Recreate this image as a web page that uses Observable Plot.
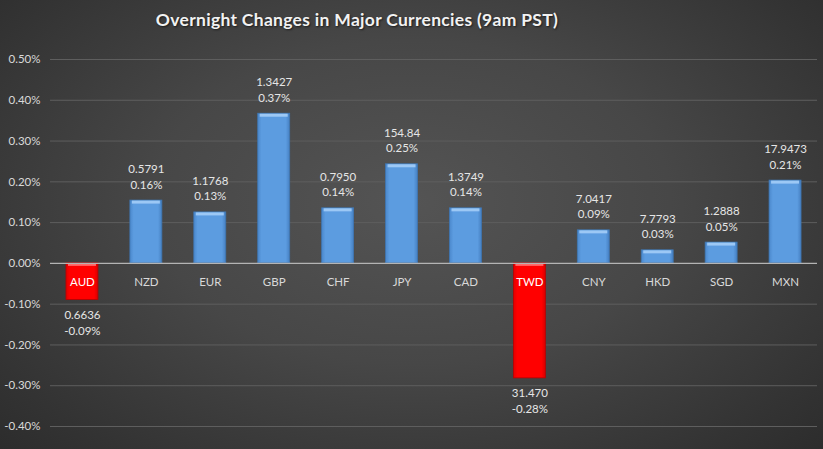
<!DOCTYPE html>
<html>
<head>
<meta charset="utf-8">
<script src="https://cdn.jsdelivr.net/npm/d3@7"></script>
<script src="https://cdn.jsdelivr.net/npm/@observablehq/plot@0.6"></script>
<style>
  html, body { margin: 0; padding: 0; }
  body { width: 823px; height: 449px; overflow: hidden; }
  #wrap {
    position: relative; width: 823px; height: 449px;
    background: radial-gradient(ellipse 70% 80% at 50% 45%, #545454 0%, #474747 45%, #333333 85%, #2c2c2c 100%);
    font-family: Lato, "Open Sans", sans-serif;
  }
  #title {
    position: absolute; left: 107px; top: 9px; width: 500px; text-align: center;
    color: #f2f2f2; font-weight: bold; font-size: 17.5px; letter-spacing: 0.3px;
    text-shadow: 1px 1px 2px rgba(0,0,0,0.6);
  }
  #chart { position: absolute; left: 0; top: 0; }
</style>
</head>
<body>
<div id="wrap">
  <div id="chart"></div>
  <div id="title">Overnight Changes in Major Currencies (9am PST)</div>
</div>
<script>
const currencies = ["AUD","NZD","EUR","GBP","CHF","JPY","CAD","TWD","CNY","HKD","SGD","MXN"];
const changes = [-0.09, 0.154, 0.125, 0.367, 0.135, 0.243, 0.135, -0.282, 0.081, 0.032, 0.051, 0.203];
const rates = ["0.6636","0.5791","1.1768","1.3427","0.7950","154.84","1.3749","31.470","7.0417","7.7793","1.2888","17.9473"];
const pctLabels = ["-0.09%","0.16%","0.13%","0.37%","0.14%","0.25%","0.14%","-0.28%","0.09%","0.03%","0.05%","0.21%"];
const yTicks = [-0.4,-0.3,-0.2,-0.1,0,0.1,0.2,0.3,0.4,0.5];

const data = currencies.map((c, i) => ({
  cur: c, v: changes[i], rate: rates[i], pct: pctLabels[i],
  label: rates[i] + "\n" + pctLabels[i]
}));
const pos = data.filter(d => d.v >= 0);
const neg = data.filter(d => d.v < 0);

const chart = Plot.plot({
  width: 823, height: 449,
  marginLeft: 50, marginRight: 6, marginTop: 59, marginBottom: 23,
  style: { background: "transparent", fontFamily: "Lato, 'Open Sans', sans-serif", overflow: "visible" },
  x: { domain: currencies, paddingInner: 0.5, paddingOuter: 0.25, round: false, axis: null },
  y: { domain: [-0.4, 0.5], ticks: yTicks, axis: null },
  marks: [
    Plot.ruleY(yTicks.filter(t => t !== 0), { stroke: "#5e5e5e", strokeWidth: 1 }),
    Plot.text(yTicks, { x: null, y: d => d, text: d => d.toFixed(2) + "%", frameAnchor: "left", dx: -10, textAnchor: "end", fill: "#d9d9d9", fontSize: 11.5 }),
    Plot.barY(pos, { x: "cur", y: "v", fill: "url(#gBlue)", stroke: "#3f77b3", strokeWidth: 0.8 }),
    Plot.barY(neg, { x: "cur", y: "v", fill: "url(#gRed)", stroke: "#b80000", strokeWidth: 0.8 }),
    Plot.tickY(pos, { x: "cur", y: "v", stroke: "#9cc8f5", strokeWidth: 3, dy: 1.5, insetLeft: 2, insetRight: 2 }),
    Plot.tickY(neg, { x: "cur", y: 0, stroke: "#ff6a6a", strokeWidth: 2, dy: 1.5, insetLeft: 2, insetRight: 2 }),
    Plot.ruleY([0], { stroke: "#b4b4b4", strokeWidth: 1.2 }),
    Plot.text(data, { x: "cur", y: 0, text: "cur", dy: 19, fill: d => d.v < 0 ? "#ffffff" : "#d9d9d9", fontSize: 11.5 }),
    Plot.text(pos, { x: "cur", y: "v", text: "label", lineAnchor: "bottom", dy: -12, lineHeight: 1.35, fill: "#e6e6e6", fontSize: 11.5 }),
    Plot.text(neg, { x: "cur", y: "v", text: "label", lineAnchor: "top", dy: 8, lineHeight: 1.35, fill: "#e6e6e6", fontSize: 11.5 })
  ]
});

// gradient defs for beveled bars
const ns = "http://www.w3.org/2000/svg";
const defs = document.createElementNS(ns, "defs");
function grad(id, stops) {
  const g = document.createElementNS(ns, "linearGradient");
  g.setAttribute("id", id);
  g.setAttribute("x1", "0"); g.setAttribute("x2", "1"); g.setAttribute("y1", "0"); g.setAttribute("y2", "0");
  stops.forEach(([o, c]) => {
    const s = document.createElementNS(ns, "stop");
    s.setAttribute("offset", o); s.setAttribute("stop-color", c);
    g.appendChild(s);
  });
  defs.appendChild(g);
}
grad("gBlue", [["0", "#4b88cc"], ["0.12", "#5c9ce0"], ["0.88", "#5c9ce0"], ["1", "#4680c2"]]);
grad("gRed", [["0", "#e00000"], ["0.12", "#ff0000"], ["0.88", "#ff0000"], ["1", "#d80000"]]);
chart.insertBefore(defs, chart.firstChild);

document.getElementById("chart").appendChild(chart);
</script>
</body>
</html>
